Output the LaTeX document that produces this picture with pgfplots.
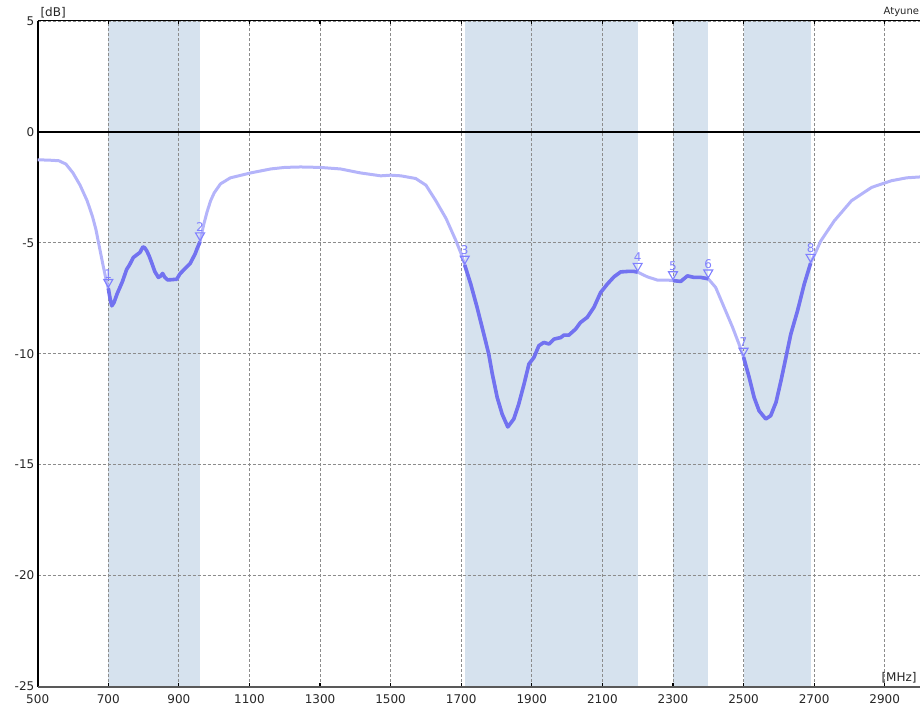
\documentclass[border=0pt]{standalone}
\usepackage{pgfplots}
\pgfplotsset{compat=1.18}
\usepackage{pgfplotstable}
\usepackage{fontspec}
\setmainfont{DejaVu Sans}
\definecolor{band}{HTML}{D6E2EE}
\definecolor{lightline}{HTML}{B4B4FA}
\definecolor{darkline}{HTML}{7272F0}
\definecolor{markc}{HTML}{8080FF}
\definecolor{gridc}{HTML}{8C8C8C}

\pgfplotstableread{
f db
500 -1.26
530 -1.27
560 -1.30
580 -1.45
600 -1.85
620 -2.40
640 -3.10
655 -3.80
665 -4.40
675 -5.20
685 -6.00
693 -6.60
700 -7.05
705 -7.50
710 -7.84
716 -7.70
725 -7.30
740 -6.75
752 -6.20
760 -6.00
771 -5.66
780 -5.55
790 -5.43
798 -5.18
803 -5.22
809 -5.36
816 -5.60
823 -5.90
832 -6.30
842 -6.56
848 -6.50
854 -6.38
860 -6.55
868 -6.67
880 -6.66
894 -6.64
903 -6.40
915 -6.20
932 -5.93
946 -5.50
952 -5.25
960 -4.95
970 -4.20
980 -3.60
990 -3.10
1000 -2.75
1018 -2.34
1046 -2.07
1103 -1.85
1160 -1.67
1200 -1.60
1245 -1.58
1300 -1.60
1358 -1.67
1415 -1.85
1472 -1.98
1500 -1.95
1529 -1.98
1571 -2.10
1600 -2.40
1628 -3.10
1657 -3.90
1685 -4.90
1700 -5.50
1710 -6.00
1727 -6.86
1745 -7.91
1764 -9.11
1778 -10.01
1788 -10.90
1802 -11.97
1816 -12.72
1832 -13.30
1849 -12.94
1863 -12.27
1878 -11.37
1892 -10.46
1906 -10.17
1920 -9.64
1934 -9.49
1949 -9.56
1963 -9.34
1982 -9.27
1991 -9.16
2005 -9.16
2024 -8.89
2038 -8.59
2057 -8.36
2076 -7.91
2095 -7.24
2114 -6.86
2133 -6.53
2152 -6.31
2171 -6.29
2190 -6.29
2200 -6.32
2227 -6.53
2256 -6.68
2284 -6.68
2300 -6.70
2322 -6.74
2341 -6.49
2360 -6.56
2379 -6.56
2400 -6.62
2421 -7.01
2445 -7.91
2469 -8.81
2487 -9.56
2500 -10.15
2516 -11.07
2530 -11.97
2544 -12.57
2563 -12.94
2577 -12.79
2592 -12.19
2606 -11.22
2620 -10.17
2634 -9.11
2653 -8.06
2672 -6.86
2690 -5.92
2719 -4.91
2757 -4.01
2806 -3.10
2863 -2.50
2919 -2.20
2962 -2.07
3000 -2.03
}\trace

\pgfplotstableread{
f db lab
700 -7.05 1
960 -4.95 2
1710 -6.00 3
2200 -6.32 4
2300 -6.70 5
2400 -6.62 6
2500 -10.15 7
2690 -5.92 8
}\markers

\begin{document}
\begin{tikzpicture}
\begin{axis}[
  set layers,
  at={(0,0)}, anchor=south west,
  scale only axis, width=441.15pt, height=332.75pt,
  xmin=500, xmax=3000, ymin=-25, ymax=5,
  axis line style={draw=none},
  xtick={500,700,900,1100,1300,1500,1700,1900,2100,2300,2500,2700,2900},
  xticklabels={500,700,900,1100,1300,1500,1700,1900,2100,2300,2500,2700,2900},
  ytick={-25,-20,-15,-10,-5,0,5},
  yticklabels={-25,-20,-15,-10,-5,0,5},
  tick label style={font=\fontsize{6}{7}\selectfont, text=black!85},
  xticklabel style={yshift=-0.6pt},
  yticklabel style={inner sep=1.5pt},
  xtick pos=both, tick align=inside,
  major tick length=1.6pt,
  xtick style={black, line width=0.6pt},
  ytick style={draw=none},
  xmajorgrids, ymajorgrids,
  major grid style={gridc, dash pattern=on 1.5pt off 1pt, line width=0.4pt},
  clip=false,
]
% bands
\addplot[fill=band, draw=none, on layer=axis background] coordinates {(700,-25) (700,5) (960,5) (960,-25)};
\addplot[fill=band, draw=none, on layer=axis background] coordinates {(1710,-25) (1710,5) (2200,5) (2200,-25)};
\addplot[fill=band, draw=none, on layer=axis background] coordinates {(2300,-25) (2300,5) (2400,5) (2400,-25)};
\addplot[fill=band, draw=none, on layer=axis background] coordinates {(2500,-25) (2500,5) (2690,5) (2690,-25)};
% zero line and frame
\draw[black, line width=0.6pt] (axis cs:500,0) -- (axis cs:3000,0);
\draw[black, line width=0.8pt] (axis cs:500,-25) -- (axis cs:500,5);
\draw[black, line width=0.5pt] (axis cs:500,5) -- (axis cs:3000,5);
\draw[black!65, line width=1pt] (axis cs:500,-25) -- (axis cs:3000,-25);
% traces
\addplot[lightline, line width=1.5pt, mark=none, line join=round] table[x=f, y=db] {\trace};
\addplot[darkline, line width=1.8pt, mark=none, line join=round, restrict x to domain=700:960] table[x=f, y=db] {\trace};
\addplot[darkline, line width=1.8pt, mark=none, line join=round, restrict x to domain=1710:2200] table[x=f, y=db] {\trace};
\addplot[darkline, line width=1.8pt, mark=none, line join=round, restrict x to domain=2300:2400] table[x=f, y=db] {\trace};
\addplot[darkline, line width=1.8pt, mark=none, line join=round, restrict x to domain=2500:2690] table[x=f, y=db] {\trace};
% markers
\addplot[only marks, mark=triangle, mark size=2.6pt,
  mark options={markc, line width=0.55pt, yshift=3.1pt, rotate=180}]
  table[x=f, y=db] {\markers};
% marker numbers
\addplot[only marks, mark=none,
  point meta=explicit symbolic,
  nodes near coords,
  every node near coord/.append style={anchor=south, yshift=4.6pt, inner sep=0.3pt,
     font=\fontsize{6}{7}\selectfont, text=markc}]
  table[x=f, y=db, meta=lab] {\markers};
% labels
\node[anchor=south west, inner sep=0pt, font=\fontsize{6}{7}\selectfont, text=black!85] at (rel axis cs:0,1) [xshift=1.2pt, yshift=1.2pt] {[dB]};
\node[anchor=south east, inner sep=0pt, font=\fontsize{6}{7}\selectfont, text=black!85] at (rel axis cs:1,0) [xshift=-1.5pt, yshift=1.5pt] {[MHz]};
\node[anchor=south east, inner sep=0pt, font=\fontsize{5}{6}\selectfont, text=black!85] at (rel axis cs:1,1) [xshift=-0.3pt, yshift=1.8pt] {Atyune};
\end{axis}
\pgfresetboundingbox
\path[use as bounding box] (-18.85pt,-10pt) rectangle (441.15pt,343.25pt);
\end{tikzpicture}
\end{document}
